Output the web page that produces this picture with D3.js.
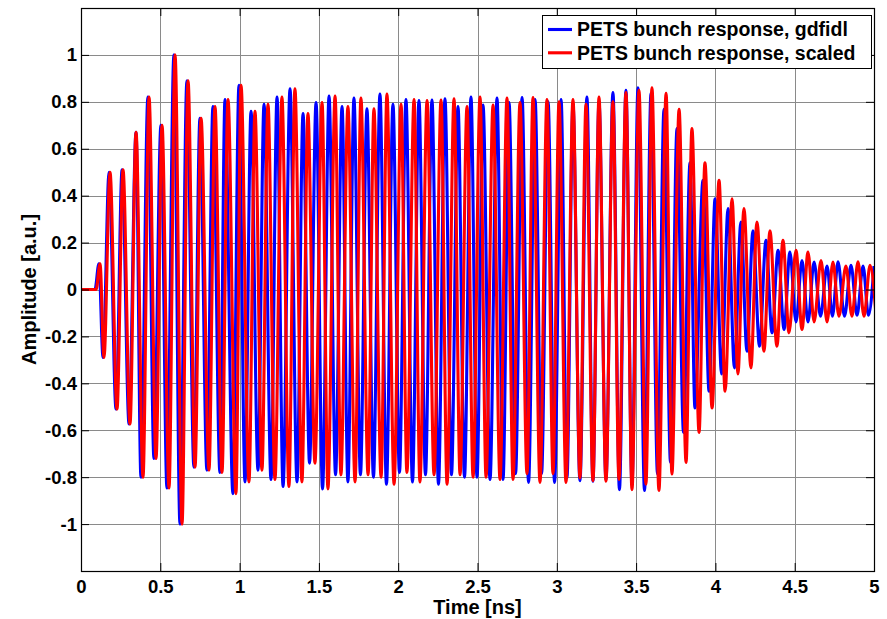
<!DOCTYPE html>
<html>
<head>
<meta charset="utf-8">
<script src="https://cdn.jsdelivr.net/npm/d3@7"></script>
<style>
  body { margin: 0; background: #fff; }
  svg { display: block; }
  text { font-family: "Liberation Sans", Arial, Helvetica, sans-serif; font-weight: bold; fill: #000; }
</style>
</head>
<body>
<svg id="chart" width="887" height="619"></svg>
<script>
// ---- axis ticks and labels ----
const timeTicks = [0, 0.5, 1, 1.5, 2, 2.5, 3, 3.5, 4, 4.5, 5];
const ampTicks = [-1, -0.8, -0.6, -0.4, -0.2, 0, 0.2, 0.4, 0.6, 0.8, 1];
const xTitle = "Time [ns]";
const yTitle = "Amplitude [a.u.]";
const seriesNames = ["PETS bunch response, gdfidl", "PETS bunch response, scaled"];
const seriesColors = ["#0000ff", "#ff0000"];

// ---- gdfidl response: quiet lead-in, then successive maxima and minima ----
const gdfidlLeadT = [0, 0.088];
const gdfidlLeadA = [0, 0];
const gdfidlPeakT = [0.113, 0.177, 0.259, 0.347, 0.422, 0.504, 0.586, 0.668, 0.750, 0.832,
  0.908, 0.996, 1.072, 1.154, 1.236, 1.318, 1.400, 1.482, 1.564, 1.646,
  1.721, 1.803, 1.885, 1.967, 2.049, 2.131, 2.213, 2.295, 2.377, 2.459,
  2.535, 2.623, 2.699, 2.781, 2.863, 2.945, 3.027, 3.102, 3.190, 3.266,
  3.354, 3.436, 3.512, 3.594, 3.676, 3.758, 3.840, 3.922, 3.998, 4.080,
  4.161, 4.237, 4.319, 4.395, 4.470, 4.546, 4.622, 4.704, 4.773, 4.855,
  4.931, 5.000];
const gdfidlPeakA = [0.11, 0.50, 0.51, 0.67, 0.82, 0.70, 1.00, 0.89, 0.73, 0.78,
  0.81, 0.87, 0.76, 0.79, 0.82, 0.856, 0.75, 0.797, 0.825, 0.78,
  0.816, 0.77, 0.833, 0.79, 0.81, 0.806, 0.808, 0.813, 0.78, 0.82,
  0.786, 0.816, 0.797, 0.818, 0.81, 0.80, 0.81, 0.79, 0.82, 0.80,
  0.84, 0.849, 0.86, 0.836, 0.768, 0.686, 0.54, 0.465, 0.387, 0.345,
  0.288, 0.25, 0.21, 0.167, 0.16, 0.123, 0.117, 0.10, 0.118, 0.103,
  0.10, 0.10];
const gdfidlTroughT = [0.139, 0.221, 0.303, 0.378, 0.460, 0.542, 0.624, 0.712, 0.794, 0.876,
  0.958, 1.034, 1.116, 1.198, 1.274, 1.362, 1.441, 1.523, 1.605, 1.683,
  1.762, 1.844, 1.926, 2.008, 2.090, 2.172, 2.254, 2.336, 2.418, 2.497,
  2.579, 2.661, 2.740, 2.822, 2.904, 2.986, 3.064, 3.146, 3.228, 3.310,
  3.395, 3.474, 3.553, 3.635, 3.717, 3.799, 3.871, 3.960, 4.039, 4.120,
  4.199, 4.278, 4.357, 4.433, 4.508, 4.584, 4.663, 4.738, 4.814, 4.893,
  4.965];
const gdfidlTroughA = [-0.29, -0.51, -0.573, -0.80, -0.72, -0.846, -1.0, -0.757, -0.77, -0.78,
  -0.87, -0.82, -0.77, -0.81, -0.84, -0.82, -0.74, -0.85, -0.79, -0.82,
  -0.79, -0.80, -0.83, -0.78, -0.82, -0.79, -0.83, -0.79, -0.80, -0.80,
  -0.81, -0.81, -0.785, -0.822, -0.785, -0.822, -0.803, -0.815, -0.817, -0.81,
  -0.853, -0.83, -0.857, -0.786, -0.737, -0.609, -0.505, -0.434, -0.36, -0.334,
  -0.263, -0.242, -0.185, -0.17, -0.138, -0.138, -0.114, -0.114, -0.114, -0.11,
  -0.11];

// ---- scaled response ----
const scaledLeadT = [0, 0.095];
const scaledLeadA = [0, 0];
const scaledPeakT = [0.120, 0.183, 0.265, 0.347, 0.429, 0.511, 0.593, 0.675, 0.757, 0.845,
  0.927, 1.009, 1.097, 1.179, 1.267, 1.349, 1.431, 1.520, 1.602, 1.683,
  1.765, 1.847, 1.929, 2.018, 2.100, 2.182, 2.270, 2.352, 2.434, 2.516,
  2.598, 2.686, 2.768, 2.850, 2.938, 3.014, 3.102, 3.184, 3.266, 3.354,
  3.436, 3.518, 3.600, 3.689, 3.771, 3.852, 3.934, 4.023, 4.105, 4.180,
  4.262, 4.344, 4.426, 4.508, 4.584, 4.666, 4.741, 4.823, 4.899, 4.975];
const scaledPeakA = [0.11, 0.50, 0.51, 0.67, 0.82, 0.70, 1.00, 0.89, 0.73, 0.78,
  0.81, 0.87, 0.76, 0.79, 0.82, 0.856, 0.75, 0.797, 0.825, 0.78,
  0.816, 0.77, 0.833, 0.79, 0.81, 0.806, 0.808, 0.813, 0.78, 0.82,
  0.786, 0.816, 0.797, 0.818, 0.81, 0.80, 0.81, 0.79, 0.82, 0.80,
  0.84, 0.849, 0.86, 0.836, 0.768, 0.686, 0.54, 0.465, 0.387, 0.345,
  0.288, 0.25, 0.21, 0.167, 0.16, 0.123, 0.117, 0.10, 0.118, 0.103];
const scaledTroughT = [0.145, 0.227, 0.309, 0.391, 0.473, 0.555, 0.637, 0.719, 0.807, 0.889,
  0.977, 1.059, 1.141, 1.223, 1.311, 1.393, 1.475, 1.557, 1.639, 1.728,
  1.810, 1.892, 1.974, 2.055, 2.137, 2.226, 2.308, 2.390, 2.472, 2.554,
  2.642, 2.724, 2.812, 2.894, 2.976, 3.058, 3.146, 3.228, 3.310, 3.392,
  3.474, 3.562, 3.644, 3.726, 3.815, 3.897, 3.979, 4.061, 4.142, 4.224,
  4.306, 4.388, 4.464, 4.546, 4.622, 4.704, 4.779, 4.861, 4.937, 5.013];
const scaledTroughA = [-0.29, -0.51, -0.573, -0.80, -0.72, -0.846, -1.0, -0.757, -0.77, -0.78,
  -0.87, -0.82, -0.77, -0.81, -0.84, -0.82, -0.74, -0.85, -0.79, -0.82,
  -0.79, -0.80, -0.83, -0.78, -0.82, -0.79, -0.83, -0.79, -0.80, -0.80,
  -0.81, -0.81, -0.785, -0.822, -0.785, -0.822, -0.803, -0.815, -0.817, -0.81,
  -0.853, -0.83, -0.857, -0.786, -0.737, -0.609, -0.505, -0.434, -0.36, -0.334,
  -0.263, -0.242, -0.185, -0.17, -0.138, -0.138, -0.114, -0.114, -0.114, -0.11];

// merge lead-in, maxima and minima into one time-ordered trace
function buildTrace(leadT, leadA, peakT, peakA, troughT, troughA) {
  const pts = [];
  leadT.forEach((t, i) => pts.push([t, leadA[i]]));
  peakT.forEach((t, i) => pts.push([t, peakA[i]]));
  troughT.forEach((t, i) => pts.push([t, troughA[i]]));
  return pts.sort((a, b) => a[0] - b[0]);
}

const traces = [
  buildTrace(gdfidlLeadT, gdfidlLeadA, gdfidlPeakT, gdfidlPeakA, gdfidlTroughT, gdfidlTroughA),
  buildTrace(scaledLeadT, scaledLeadA, scaledPeakT, scaledPeakA, scaledTroughT, scaledTroughA)
];

// ---- layout ----
const plot = { left: 81, top: 8, right: 874, bottom: 571 };
const svg = d3.select("#chart");

const x = d3.scaleLinear().domain([0, 5]).range([plot.left, plot.right]);
const y = d3.scaleLinear().domain([-1.2, 1.2]).range([plot.bottom, plot.top]);

const fmt = d => String(+d.toFixed(2));

svg.append("defs").append("clipPath").attr("id", "plotClip")
  .append("rect")
  .attr("x", plot.left).attr("y", plot.top)
  .attr("width", plot.right - plot.left).attr("height", plot.bottom - plot.top);

// grid
const grid = svg.append("g").attr("class", "grid")
  .attr("stroke", "#8a8a8a").attr("stroke-width", 1);
grid.selectAll("line.vx").data(timeTicks.filter(t => t > 0 && t < 5)).join("line")
  .attr("class", "vx")
  .attr("x1", d => Math.round(x(d)) + 0.5).attr("x2", d => Math.round(x(d)) + 0.5)
  .attr("y1", plot.top).attr("y2", plot.bottom);
grid.selectAll("line.hy").data(ampTicks).join("line")
  .attr("class", "hy")
  .attr("y1", d => Math.round(y(d)) + 0.5).attr("y2", d => Math.round(y(d)) + 0.5)
  .attr("x1", plot.left).attr("x2", plot.right);

// traces
const line = d3.line()
  .x(d => x(d[0]))
  .y(d => y(d[1]))
  .curve(d3.curveMonotoneX);

svg.append("g").attr("clip-path", "url(#plotClip)")
  .selectAll("path").data(traces).join("path")
  .attr("d", line)
  .attr("fill", "none")
  .attr("stroke", (d, i) => seriesColors[i])
  .attr("stroke-width", 3.1)
  .attr("stroke-linejoin", "round");

// axes with inward ticks on all four sides
const tickLen = 8;
const styleAxis = g => {
  g.select(".domain").remove();
  g.selectAll(".tick line").attr("stroke", "#000");
  g.selectAll(".tick text").style("font-size", "18.5px").attr("fill", "#000");
};

svg.append("g").attr("transform", `translate(0,${plot.bottom})`)
  .call(d3.axisBottom(x).tickValues(timeTicks).tickFormat(fmt).tickSize(-tickLen).tickPadding(9))
  .call(styleAxis);
svg.append("g").attr("transform", `translate(0,${plot.top})`)
  .call(d3.axisTop(x).tickValues(timeTicks).tickFormat("").tickSize(-tickLen))
  .call(styleAxis);
svg.append("g").attr("transform", `translate(${plot.left},0)`)
  .call(d3.axisLeft(y).tickValues(ampTicks).tickFormat(fmt).tickSize(-tickLen).tickPadding(4))
  .call(styleAxis);
svg.append("g").attr("transform", `translate(${plot.right},0)`)
  .call(d3.axisRight(y).tickValues(ampTicks).tickFormat("").tickSize(-tickLen))
  .call(styleAxis);

svg.selectAll("g.tick text").attr("font-family", "Liberation Sans, Arial, sans-serif");

// box
svg.append("rect")
  .attr("x", plot.left + 0.5).attr("y", plot.top + 0.5)
  .attr("width", plot.right - plot.left).attr("height", plot.bottom - plot.top)
  .attr("fill", "none").attr("stroke", "#000").attr("stroke-width", 1.2);

// axis titles
svg.append("text")
  .attr("x", (plot.left + plot.right) / 2).attr("y", 614)
  .attr("text-anchor", "middle").style("font-size", "20px")
  .text(xTitle);
svg.append("text")
  .attr("transform", `translate(35.5,${(plot.top + plot.bottom) / 2}) rotate(-90)`)
  .attr("text-anchor", "middle").style("font-size", "20px")
  .text(yTitle);

// legend
const legend = svg.append("g").attr("class", "legend");
legend.append("rect")
  .attr("x", 542.5).attr("y", 15.5).attr("width", 329).attr("height", 53)
  .attr("fill", "#fff").attr("stroke", "#000").attr("stroke-width", 1);
seriesNames.forEach((name, i) => {
  const ly = 29.5 + i * 23.3;
  legend.append("line")
    .attr("x1", 548).attr("x2", 572).attr("y1", ly).attr("y2", ly)
    .attr("stroke", seriesColors[i]).attr("stroke-width", 3.1);
  legend.append("text")
    .attr("x", 577).attr("y", ly).attr("dy", "0.35em")
    .style("font-size", "19.5px")
    .text(name);
});
</script>
</body>
</html>
